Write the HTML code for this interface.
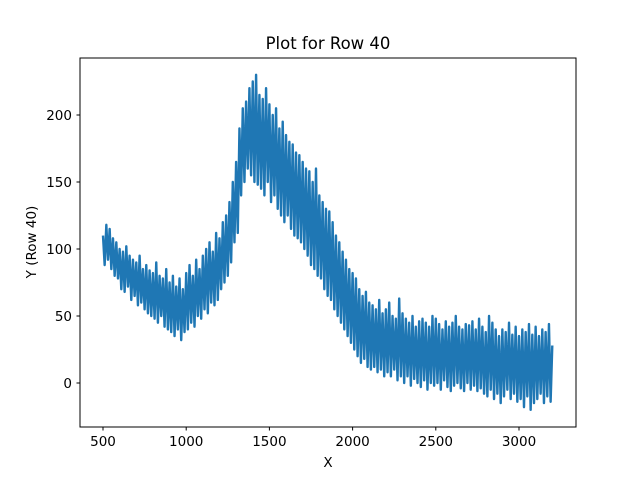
<!DOCTYPE html>
<html><head><meta charset="utf-8"><style>
body{margin:0;background:#fff}
svg text{font-family:"DejaVu Sans","Liberation Sans",sans-serif;fill:#000}
</style></head><body>
<svg id="chart" width="640" height="480" viewBox="0 0 640 480">
<rect width="640" height="480" fill="#fff"/>
<g id="plot"></g>
<rect x="80" y="58" width="496" height="369" fill="none" stroke="#000" stroke-width="1"/>
<g id="xt"></g>
<g id="yt"></g>
<text x="328" y="49" font-size="16.5" text-anchor="middle">Plot for Row 40</text>
<text x="328" y="467" font-size="13.5" text-anchor="middle">X</text>
<text transform="translate(36,242) rotate(-90)" font-size="13.5" text-anchor="middle">Y (Row 40)</text>
</svg>
<script>
const xStart = 500;
const xStep = 10;
const yValues = [
110,88,118,92,115,85,108,80,105,78,
100,70,98,68,102,72,95,62,92,65,
90,58,95,60,85,55,88,52,84,50,
82,48,90,45,80,50,78,42,85,40,
75,38,80,35,72,40,78,32,70,38,
82,40,88,45,80,42,92,50,85,48,
95,55,100,52,105,60,98,58,112,62,
108,70,120,75,125,80,135,90,150,105,
165,112,190,140,205,150,210,160,220,155,
225,150,230,148,215,145,212,140,220,150,
208,135,200,140,205,130,190,125,195,120,
185,125,180,115,178,110,172,108,170,105,
165,100,160,95,158,88,150,85,160,80,
140,78,135,70,130,65,128,62,120,55,
110,50,105,45,98,40,92,35,85,30,
82,25,78,20,70,15,65,18,68,12,
60,10,58,12,55,8,62,10,52,5,
55,8,60,5,50,10,48,2,63,5,
52,0,48,5,45,-2,50,3,42,0,
46,-3,48,2,45,-5,42,0,50,-2,
48,0,44,-5,40,2,46,-3,42,-6,
45,-2,50,0,42,-4,40,-6,44,0,
43,-5,46,-2,40,-6,48,-4,42,-8,
38,-10,50,-5,45,-12,40,-8,35,-15,
40,-10,38,-5,45,-12,36,-8,42,-14,
35,-12,40,-18,38,-10,44,-20,36,-15,
42,-12,35,-8,40,-15,38,-10,44,-14,
28];
const xTicks = [500,1000,1500,2000,2500,3000];
const yTicks = [0,50,100,150,200];

const NS="http://www.w3.org/2000/svg";
const sx = v => 103 + (v-500)*416/2500;
const sy = v => 383 - v*268/200;

const pts = yValues.map((y,i)=>sx(xStart+i*xStep).toFixed(2)+","+sy(y).toFixed(2)).join(" ");
const line=document.createElementNS(NS,"polyline");
line.setAttribute("points",pts);
line.setAttribute("fill","none");
line.setAttribute("stroke","#1f77b4");
line.setAttribute("stroke-width","2.4");
line.setAttribute("stroke-linejoin","round");


document.getElementById("plot").appendChild(line);

const xt=document.getElementById("xt");
xTicks.forEach(t=>{
  const x=sx(t);
  const l=document.createElementNS(NS,"line");
  l.setAttribute("x1",x);l.setAttribute("x2",x);l.setAttribute("y1",427);l.setAttribute("y2",430.5);
  l.setAttribute("stroke","#000");
  
  
  xt.appendChild(l);
  const tx=document.createElementNS(NS,"text");
  tx.setAttribute("x",x);tx.setAttribute("y",446);tx.setAttribute("font-size","13.5");tx.setAttribute("text-anchor","middle");
  tx.textContent=t;
  
  
  xt.appendChild(tx);
});
const yt=document.getElementById("yt");
yTicks.forEach(t=>{
  const y=sy(t);
  const l=document.createElementNS(NS,"line");
  l.setAttribute("x1",76.5);l.setAttribute("x2",80);l.setAttribute("y1",y);l.setAttribute("y2",y);
  l.setAttribute("stroke","#000");
  
  
  yt.appendChild(l);
  const tx=document.createElementNS(NS,"text");
  tx.setAttribute("x",72);tx.setAttribute("y",y+5);tx.setAttribute("font-size","13.5");tx.setAttribute("text-anchor","end");
  tx.textContent=t;
  
  
  yt.appendChild(tx);
});
</script>
</body></html>
